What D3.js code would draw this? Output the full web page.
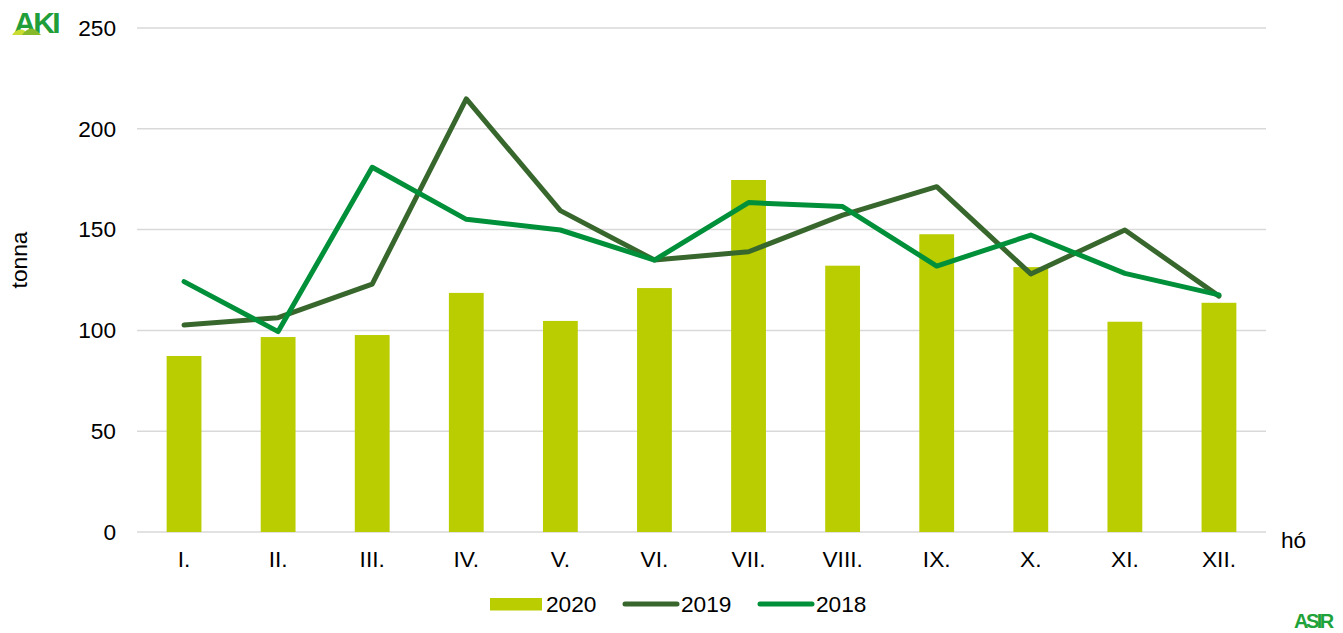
<!DOCTYPE html>
<html>
<head>
<meta charset="utf-8">
<script src="https://cdn.jsdelivr.net/npm/d3@7"></script>
<style>
  body { margin: 0; background: #fff; }
  text { font-family: "Liberation Sans", Arial, sans-serif; }
</style>
</head>
<body>
<div id="chart"></div>
<script>
// Monthly values (tonna)
const months = ['I.', 'II.', 'III.', 'IV.', 'V.', 'VI.', 'VII.', 'VIII.', 'IX.', 'X.', 'XI.', 'XII.'];
const values2020 = [87.3, 96.7, 97.7, 118.6, 104.7, 121, 174.6, 132.1, 147.7, 131.4, 104.3, 113.7];
const values2019 = [102.7, 106.3, 123, 214.8, 159.4, 134.9, 139, 157.2, 171.3, 128, 149.8, 117];
const values2018 = [124.2, 99.4, 180.9, 155.1, 149.8, 134.9, 163.4, 161.4, 131.9, 147.3, 128.3, 117.6];
const yTicks = [0, 50, 100, 150, 200, 250];

const config = {
    width: 1343,
    height: 633,
    margin: { top: 28, right: 77, bottom: 101, left: 137 },
    fontSize: 22.7,
    barColor: '#b9cd00',
    color2019: '#38672d',
    color2018: '#00903a'
};

const svg = d3.select('#chart').append('svg')
    .attr('width', config.width)
    .attr('height', config.height);

const innerW = config.width - config.margin.left - config.margin.right;
const innerH = config.height - config.margin.top - config.margin.bottom;

const chart = svg.append('g')
    .attr('transform', `translate(${config.margin.left},${config.margin.top})`);

const x = d3.scaleBand()
    .domain(months)
    .range([0, innerW])
    .paddingInner(0.63)
    .paddingOuter(0.315);

const y = d3.scaleLinear()
    .domain([0, 250])
    .range([innerH, 0]);

// Gridlines
chart.selectAll('.grid')
    .data(yTicks)
    .join('line')
    .attr('class', 'grid')
    .attr('x1', 0)
    .attr('x2', innerW)
    .attr('y1', d => y(d))
    .attr('y2', d => y(d))
    .attr('stroke', '#d9d9d9')
    .attr('stroke-width', 1.5);

// Y axis labels
const yAxis = chart.append('g')
    .call(d3.axisLeft(y).tickValues(yTicks).tickSize(0).tickPadding(21));
yAxis.select('.domain').remove();
yAxis.selectAll('text')
    .attr('font-size', config.fontSize)
    .attr('fill', '#000')
    .style('font-family', '"Liberation Sans", Arial, sans-serif');

// X axis labels
const xAxis = chart.append('g')
    .attr('transform', `translate(0,${innerH})`)
    .call(d3.axisBottom(x).tickSize(0).tickPadding(19));
xAxis.select('.domain').remove();
xAxis.selectAll('text')
    .attr('font-size', config.fontSize)
    .attr('fill', '#000')
    .style('font-family', '"Liberation Sans", Arial, sans-serif');

// Bars 2020
chart.selectAll('.bar')
    .data(values2020)
    .join('rect')
    .attr('class', 'bar')
    .attr('x', (d, i) => x(months[i]))
    .attr('y', d => y(d))
    .attr('width', x.bandwidth())
    .attr('height', d => innerH - y(d))
    .attr('fill', config.barColor);

// Lines
const line = d3.line()
    .x((d, i) => x(months[i]) + x.bandwidth() / 2)
    .y(d => y(d));

chart.append('path')
    .datum(values2019)
    .attr('d', line)
    .attr('fill', 'none')
    .attr('stroke', config.color2019)
    .attr('stroke-width', 5)
    .attr('stroke-linecap', 'round')
    .attr('stroke-linejoin', 'round');

chart.append('path')
    .datum(values2018)
    .attr('d', line)
    .attr('fill', 'none')
    .attr('stroke', config.color2018)
    .attr('stroke-width', 5)
    .attr('stroke-linecap', 'round')
    .attr('stroke-linejoin', 'round');

// Axis titles
svg.append('text')
    .attr('transform', 'translate(27,260) rotate(-90)')
    .attr('text-anchor', 'middle')
    .attr('font-size', config.fontSize)
    .text('tonna');

svg.append('text')
    .attr('x', 1281)
    .attr('y', 548)
    .attr('font-size', config.fontSize)
    .text('hó');

// Legend
const legend = svg.append('g').attr('transform', 'translate(0,604)');
legend.append('rect')
    .attr('x', 490).attr('y', -6)
    .attr('width', 52).attr('height', 12.5)
    .attr('fill', config.barColor);
legend.append('text').attr('x', 546).attr('y', 8).attr('font-size', config.fontSize).text('2020');
legend.append('line')
    .attr('x1', 625).attr('x2', 677).attr('y1', 0).attr('y2', 0)
    .attr('stroke', config.color2019).attr('stroke-width', 5).attr('stroke-linecap', 'round');
legend.append('text').attr('x', 681).attr('y', 8).attr('font-size', config.fontSize).text('2019');
legend.append('line')
    .attr('x1', 760).attr('x2', 812).attr('y1', 0).attr('y2', 0)
    .attr('stroke', config.color2018).attr('stroke-width', 5).attr('stroke-linecap', 'round');
legend.append('text').attr('x', 816).attr('y', 8).attr('font-size', config.fontSize).text('2018');

// AKI logo (top left)
const aki = svg.append('g');
aki.append('text')
    .attr('x', 14).attr('y', 33)
    .attr('font-size', 30)
    .attr('font-weight', 'bold')
    .attr('fill', '#1f9e3a')
    .attr('letter-spacing', -2.5)
    .text('AKI');
aki.append('path')
    .attr('d', 'M12,35 Q20,24 30,35 Z')
    .attr('fill', '#c8dc32');
aki.append('path')
    .attr('d', 'M22,35 Q31,22 41,35 Z')
    .attr('fill', '#86b92a');

// ASIR logo (bottom right)
svg.append('text')
    .attr('x', 1294).attr('y', 628)
    .attr('font-size', 20)
    .attr('font-weight', 'bold')
    .attr('fill', '#1ea33a')
    .attr('letter-spacing', -2.5)
    .text('ASIR');
</script>
</body>
</html>
